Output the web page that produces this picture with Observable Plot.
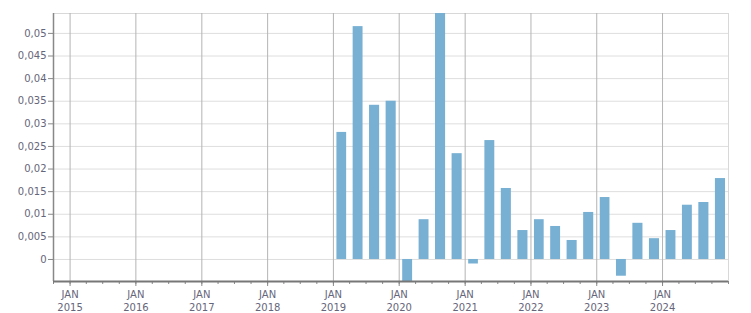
<!DOCTYPE html>
<html>
<head>
<meta charset="utf-8">
<script src="https://cdn.jsdelivr.net/npm/d3@7"></script>
<script src="https://cdn.jsdelivr.net/npm/@observablehq/plot@0.6"></script>
<style>
  html, body { margin: 0; padding: 0; background: #fff; }
  #chart svg { display: block; }
</style>
</head>
<body>
<div id="chart"></div>
<script>
const quarters = [
  "2019-01-01","2019-04-01","2019-07-01","2019-10-01",
  "2020-01-01","2020-04-01","2020-07-01","2020-10-01",
  "2021-01-01","2021-04-01","2021-07-01","2021-10-01",
  "2022-01-01","2022-04-01","2022-07-01","2022-10-01",
  "2023-01-01","2023-04-01","2023-07-01","2023-10-01",
  "2024-01-01","2024-04-01","2024-07-01","2024-10-01"
];
const values = [
  0.0281, 0.0515, 0.0341, 0.0350,
  -0.0050, 0.0088, 0.0545, 0.0234,
  -0.0010, 0.0263, 0.0157, 0.0064,
  0.0088, 0.0073, 0.0042, 0.0104,
  0.0137, -0.0037, 0.0080, 0.0046,
  0.0064, 0.0120, 0.0126, 0.0179
];
const yTicks = [0, 0.005, 0.01, 0.015, 0.02, 0.025, 0.03, 0.035, 0.04, 0.045, 0.05];
const yTickLabels = ["0", "0,005", "0,01", "0,015", "0,02", "0,025", "0,03", "0,035", "0,04", "0,045", "0,05"];
const years = [2015, 2016, 2017, 2018, 2019, 2020, 2021, 2022, 2023, 2024];
const monthLabel = "JAN";

const data = quarters.map((q, i) => {
  const start = new Date(q + "T00:00:00Z");
  const end = new Date(start); end.setUTCMonth(end.getUTCMonth() + 3);
  return { start, end, value: values[i] };
});
const yearDates = years.map(y => new Date(Date.UTC(y, 0, 1)));
const quarterTicks = d3.utcMonth.every(3).range(new Date(Date.UTC(2014, 9, 1)), new Date(Date.UTC(2025, 0, 2)));
const textColor = "#66667a";

const chart = Plot.plot({
  width: 751,
  height: 313,
  marginLeft: 53,
  marginRight: 23,
  marginTop: 13,
  marginBottom: 32,
  style: { fontFamily: "DejaVu Sans, sans-serif", fontSize: "10px", color: textColor, background: "#fff" },
  x: { type: "utc", domain: [new Date(Date.UTC(2014, 9, 1)), new Date(Date.UTC(2025, 0, 1))] },
  y: { domain: [-0.00487, 0.0544] },
  marks: [
    Plot.frame({ stroke: "#d8d8d8" }),
    Plot.ruleY(yTicks, { stroke: "#dedede", strokeOpacity: 1 }),
    Plot.ruleX(yearDates, { stroke: "#b4b4b4", strokeOpacity: 1, y1: -0.00487, y2: 0.0544 }),
    Plot.rectY(data, { x1: "start", x2: "end", y: "value", fill: "#78b0d3", insetLeft: 3.5, insetRight: 3, clip: true }),
    Plot.axisY({ ticks: yTicks, tickFormat: (d) => yTickLabels[yTicks.indexOf(d)], tickSize: 5, tickPadding: 2, stroke: "#888", fill: textColor, label: null }),
    Plot.ruleX([new Date(Date.UTC(2014, 9, 1))], { stroke: "#888", strokeWidth: 1.5 }),
    Plot.axisX({ ticks: quarterTicks, tickSize: 3, tickFormat: () => "", stroke: "#888", label: null }),
    Plot.axisX({ ticks: yearDates, tickSize: 5, tickPadding: 3, lineHeight: 1.25, tickFormat: d => monthLabel + "\n" + d.getUTCFullYear(), stroke: "#888", fill: textColor, label: null }),
    Plot.ruleY([-0.00487], { stroke: "#777", strokeWidth: 2 })
  ]
});
document.getElementById("chart").appendChild(chart);
</script>
</body>
</html>
